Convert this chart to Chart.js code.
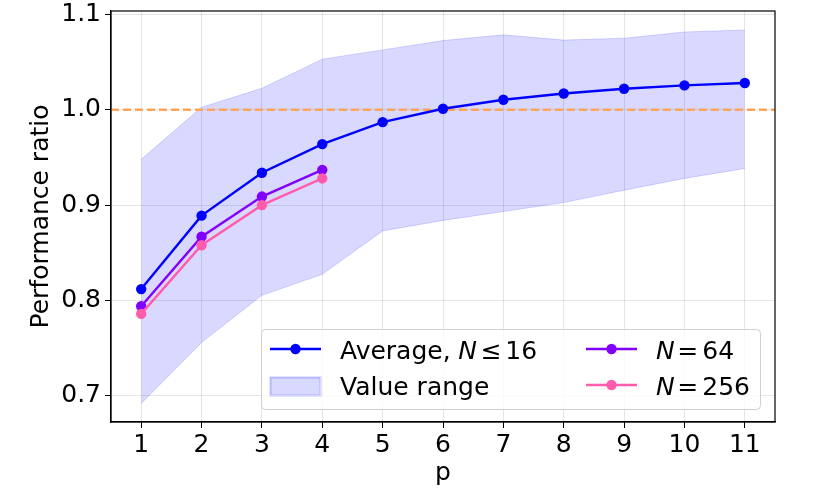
<!DOCTYPE html>
<html>
<head>
<meta charset="utf-8">
<script src="https://cdn.jsdelivr.net/npm/chart.js@4.4.0/dist/chart.umd.min.js"></script>
<style>
  html, body { margin: 0; padding: 0; background: #fff; }
  #wrap { width: 830px; height: 499px; }
</style>
</head>
<body>
<div id="wrap"><canvas id="myChart" width="830" height="499"></canvas></div>
<script>
// data
const pValues = [1, 2, 3, 4, 5, 6, 7, 8, 9, 10, 11];
const averageSmallN = [0.812, 0.889, 0.934, 0.964, 0.987, 1.001, 1.0105, 1.017, 1.022, 1.0255, 1.028];
const rangeUpper = [0.948, 1.0025, 1.0225, 1.053, 1.0627, 1.0725, 1.0785, 1.073, 1.075, 1.0815, 1.0836];
const rangeLower = [0.692, 0.756, 0.8055, 0.8275, 0.873, 0.884, 0.8933, 0.9027, 0.9157, 0.928, 0.9384];
const pLarge = [1, 2, 3, 4];
const ratioN64 = [0.794, 0.867, 0.909, 0.937];
const ratioN256 = [0.786, 0.858, 0.900, 0.928];
const yTickValues = [0.7, 0.8, 0.9, 1.0, 1.1];
const xRange = [0.5, 11.5];
const yRange = [0.6727, 1.1035];
const referenceRatio = 1.0;

const BLUE = '#0000ff';
const PURPLE = '#8000ff';
const PINK = '#ff5cae';
const ORANGE = '#ffa556';
const FONT = 'DejaVu Sans';
const FONT_SIZE = 25;
const LINE_W = 2.4;
const DOT_R = 5.2;

function toPoints(xs, ys) {
    return xs.map((x, i) => ({ x: x, y: ys[i] }));
}

// matplotlib style frame round the plot area
const framePlugin = {
    id: 'frame',
    afterDatasetsDraw(chart) {
        const a = chart.chartArea;
        const ctx = chart.ctx;
        ctx.save();
        ctx.strokeStyle = '#000';
        ctx.lineWidth = 1.2;
        ctx.strokeRect(a.left, a.top, a.right - a.left, a.bottom - a.top);
        ctx.restore();
    }
};

// legend drawn inside the axes, two columns.
// each piece is placed by where its ink starts, like mathtext does
function drawInk(ctx, text, inkX, y, italic) {
    ctx.font = (italic ? 'oblique ' : '') + FONT_SIZE + 'px "' + FONT + '"';
    const m = ctx.measureText(text);
    ctx.fillText(text, inkX + m.actualBoundingBoxLeft, y);
}

function drawLineMarker(ctx, x0, x1, y, color) {
    ctx.strokeStyle = color;
    ctx.lineWidth = LINE_W;
    ctx.beginPath();
    ctx.moveTo(x0, y);
    ctx.lineTo(x1, y);
    ctx.stroke();
    ctx.fillStyle = color;
    ctx.beginPath();
    ctx.arc((x0 + x1) / 2, y, DOT_R, 0, Math.PI * 2);
    ctx.fill();
}

const legendPlugin = {
    id: 'insideLegend',
    afterDraw(chart) {
        const ctx = chart.ctx;
        ctx.save();
        ctx.beginPath();
        ctx.roundRect(261.5, 329.5, 499, 80, 4);
        ctx.fillStyle = 'rgba(255,255,255,0.8)';
        ctx.fill();
        ctx.strokeStyle = '#d0d0d0';
        ctx.lineWidth = 1;
        ctx.stroke();

        const row1 = 349, row2 = 385;
        drawLineMarker(ctx, 270, 321, row1, BLUE);
        ctx.fillStyle = 'rgba(0,0,255,0.15)';
        ctx.fillRect(270, 377, 50, 18);
        ctx.strokeStyle = 'rgba(0,0,255,0.15)';
        ctx.strokeRect(270.5, 377.5, 50, 18);
        drawLineMarker(ctx, 586, 637, row1, PURPLE);
        drawLineMarker(ctx, 586, 637, row2, PINK);

        ctx.fillStyle = '#000';
        ctx.textBaseline = 'alphabetic';
        const b1 = 358.5, b2 = 394.5;
        drawInk(ctx, 'Average,', 340, b1);
        drawInk(ctx, 'N', 458.3, b1, true);
        drawInk(ctx, '\u2264', 482.7, b1);
        drawInk(ctx, '16', 507.3, b1);
        drawInk(ctx, 'Value range', 340, b2);
        drawInk(ctx, 'N', 656, b1, true);
        drawInk(ctx, '=', 679.3, b1);
        drawInk(ctx, '64', 703.3, b1);
        drawInk(ctx, 'N', 656, b2, true);
        drawInk(ctx, '=', 679.3, b2);
        drawInk(ctx, '256', 703.3, b2);
        ctx.restore();
    }
};

Chart.defaults.font.family = FONT;
Chart.defaults.font.size = FONT_SIZE;
Chart.defaults.color = '#000';

const ctx = document.getElementById('myChart').getContext('2d');
new Chart(ctx, {
    type: 'line',
    data: {
        datasets: [
            {
                label: 'lower',
                data: toPoints(pValues, rangeLower),
                borderColor: 'rgba(0,0,255,0.15)',
                borderWidth: 1,
                pointRadius: 0,
                fill: false,
                order: 10
            },
            {
                label: 'Value range',
                data: toPoints(pValues, rangeUpper),
                borderColor: 'rgba(0,0,255,0.15)',
                backgroundColor: 'rgba(0,0,255,0.15)',
                borderWidth: 1,
                pointRadius: 0,
                fill: '-1',
                order: 10
            },
            {
                label: 'reference',
                data: toPoints(xRange, [referenceRatio, referenceRatio]),
                borderColor: ORANGE,
                borderWidth: 2.3,
                borderDash: [8, 4],
                pointRadius: 0,
                fill: false,
                order: 9
            },
            {
                label: 'Average, N \u2264 16',
                data: toPoints(pValues, averageSmallN),
                borderColor: BLUE,
                backgroundColor: BLUE,
                borderWidth: LINE_W,
                pointRadius: DOT_R,
                pointBorderWidth: 0,
                order: 3
            },
            {
                label: 'N = 64',
                data: toPoints(pLarge, ratioN64),
                borderColor: PURPLE,
                backgroundColor: PURPLE,
                borderWidth: LINE_W,
                pointRadius: DOT_R,
                pointBorderWidth: 0,
                order: 2
            },
            {
                label: 'N = 256',
                data: toPoints(pLarge, ratioN256),
                borderColor: PINK,
                backgroundColor: PINK,
                borderWidth: LINE_W,
                pointRadius: DOT_R,
                pointBorderWidth: 0,
                order: 1
            }
        ]
    },
    options: {
        responsive: false,
        animation: false,
        devicePixelRatio: 1,
        layout: { padding: { top: 11, right: 55, left: 0, bottom: 0 } },
        plugins: {
            legend: { display: false },
            tooltip: { enabled: false }
        },
        scales: {
            x: {
                type: 'linear',
                min: xRange[0],
                max: xRange[1],
                afterBuildTicks: s => { s.ticks = pValues.map(v => ({ value: v })); },
                afterFit: s => { s.height = 77; s.paddingLeft = 0; s.paddingRight = 0; },
                ticks: { padding: 2, maxRotation: 0, autoSkip: false },
                grid: { color: 'rgba(0,0,0,0.1)', tickColor: '#000', tickLength: 6 },
                border: { color: '#000', width: 1.2 },
                title: { display: true, text: 'p', padding: { top: 0, bottom: 11 } }
            },
            y: {
                min: yRange[0],
                max: yRange[1],
                afterBuildTicks: s => { s.ticks = yTickValues.map(v => ({ value: v })); },
                afterFit: s => { s.width = 111; s.paddingTop = 0; s.paddingBottom = 0; },
                ticks: { padding: 4, callback: v => v.toFixed(1) },
                grid: { color: 'rgba(0,0,0,0.1)', tickColor: '#000', tickLength: 6 },
                border: { color: '#000', width: 1.2 },
                title: { display: true, text: 'Performance ratio', padding: { top: 26, bottom: 0 } }
            }
        }
    },
    plugins: [framePlugin, legendPlugin]
});
</script>
</body>
</html>
